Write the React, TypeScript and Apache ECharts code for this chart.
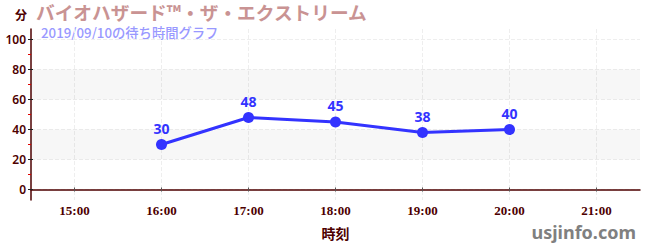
import React, { useEffect, useRef } from "react";
import * as echarts from "echarts";

const hours = [16, 17, 18, 19, 20];
const waits = [30, 48, 45, 38, 40];
const xTicks = [15, 16, 17, 18, 19, 20, 21];
const yTicks = [0, 20, 40, 60, 80, 100];
const yMinorTicks = [10, 30, 50, 70, 90];
const bands = [
  [20, 40],
  [60, 80],
];
const titleText = "バイオハザード™・ザ・エクストリーム";
const subtitleText = "2019/09/10の待ち時間グラフ";

const MAROON = "#4d0000";
const BLUE = "#3333ff";

export default function App() {
  const ref = useRef<HTMLDivElement>(null);
  useEffect(() => {
    if (!ref.current) return;
    const chart = echarts.init(ref.current, null, { renderer: "svg" });
    const grid = { left: 31, right: 10, top: 29, bottom: 50 };
    const yRange = { min: -7, max: 107 };
    const xRange = { min: 14.5, max: 21.5 };
    chart.setOption({
      animation: false,
      grid,
      xAxis: [
        {
          type: "value",
          ...xRange,
          name: "時刻",
          nameLocation: "middle",
          nameGap: 26,
          nameTextStyle: { color: MAROON, fontWeight: "bold", fontSize: 14, fontFamily: "Noto Sans CJK JP" },
          axisLine: { lineStyle: { color: MAROON, width: 1.5 } },
          axisTick: { customValues: xTicks, length: 2, lineStyle: { color: "#555" } },
          axisLabel: {
            customValues: xTicks,
            formatter: (v: number) => `${v}:00`,
            color: MAROON,
            fontSize: 13,
            fontWeight: "bold",
            fontFamily: "Liberation Sans Narrow",
            margin: 4,
          },
          splitLine: { show: true, lineStyle: { color: "#eeeeee", type: "dashed" } },
        },
        {
          type: "value",
          ...xRange,
          position: "bottom",
          axisLine: { show: false },
          axisTick: { show: true, inside: true, customValues: xTicks, length: 2, lineStyle: { color: "#555" } },
          axisLabel: { show: false, customValues: xTicks },
          splitLine: { show: false },
        },
      ],
      yAxis: [
        {
          type: "value",
          ...yRange,
          axisLine: { show: true, lineStyle: { color: MAROON, width: 1.5 } },
          axisTick: { show: true, customValues: yTicks, length: 3, lineStyle: { color: "#222" } },
          axisLabel: {
            customValues: yTicks,
            color: MAROON,
            fontSize: 12,
            fontFamily: "Noto Sans",
            fontWeight: 600,
            margin: 5,
          },
          splitLine: { show: true, lineStyle: { color: "#eeeeee", type: "dashed" } },
        },
        {
          type: "value",
          ...yRange,
          position: "left",
          axisLine: { show: false },
          axisTick: { show: true, customValues: yMinorTicks, length: 3, lineStyle: { color: "#dd0000" } },
          axisLabel: { show: false, customValues: yMinorTicks },
          splitLine: { show: false },
        },
        {
          type: "value",
          ...yRange,
          position: "left",
          axisLine: { show: false },
          axisTick: { show: true, inside: true, customValues: yTicks, length: 2, lineStyle: { color: "#222" } },
          axisLabel: { show: false, customValues: yTicks },
          splitLine: { show: false },
        },
      ],
      series: [
        {
          type: "line",
          data: hours.map((h, i) => [h, waits[i]]),
          symbol: "circle",
          symbolSize: 11,
          lineStyle: { color: BLUE, width: 3 },
          itemStyle: { color: BLUE },
          z: 5,
          label: {
            show: true,
            position: "top",
            distance: 4,
            color: BLUE,
            fontWeight: "bold",
            fontSize: 14,
            fontFamily: "Noto Sans",
          },
          markArea: {
            silent: true,
            itemStyle: { color: "rgba(0,0,0,0.03)" },
            data: bands.map(([a, b]) => [{ yAxis: a }, { yAxis: b }]),
          },
        },
      ],
      graphic: [
        {
          type: "text",
          left: 15,
          top: 8,
          style: { text: "分", fill: MAROON, font: "bold 12px 'Noto Sans CJK JP'" },
        },
        {
          type: "text",
          left: 36,
          top: 2,
          style: { text: titleText, fill: "#c99393", font: "bold 18.7px 'Noto Sans CJK JP'" },
        },
        {
          type: "text",
          left: 41,
          top: 26,
          style: { text: subtitleText, fill: "#9999ff", font: "500 13.3px 'Noto Sans CJK JP'" },
        },
        {
          type: "text",
          right: 14,
          top: 223,
          style: { text: "usjinfo.com", fill: "#808080", font: "bold 18px 'Noto Sans'" },
        },
      ],
    });
    return () => chart.dispose();
  }, []);
  return (
    <div
      ref={ref}
      style={{ position: "absolute", left: 0, top: 0, width: 650, height: 250 }}
    />
  );
}
